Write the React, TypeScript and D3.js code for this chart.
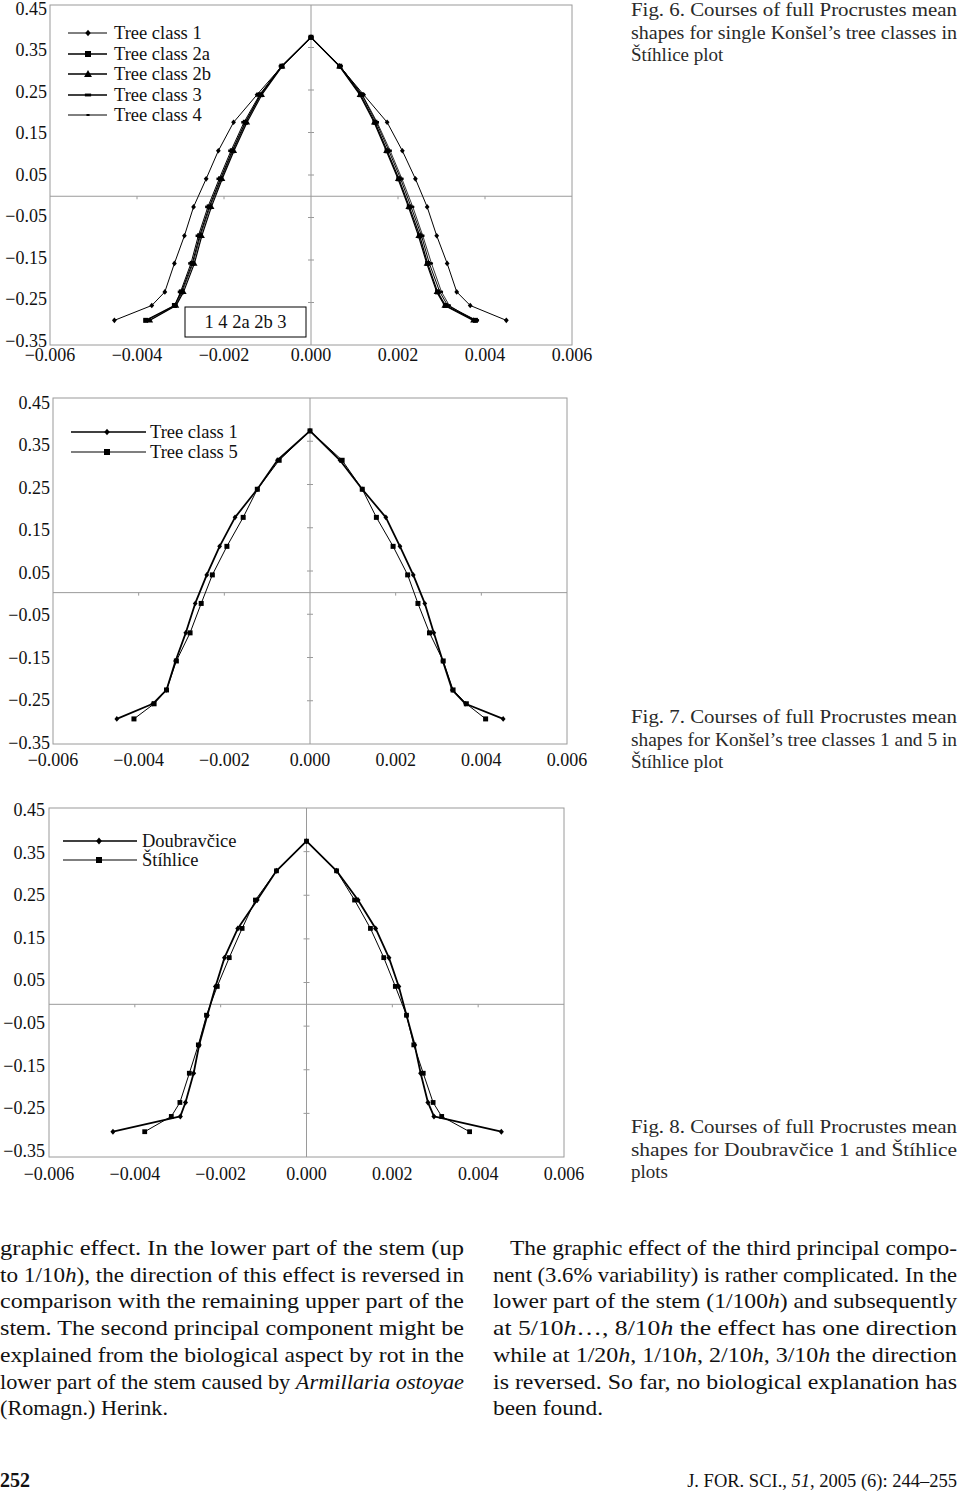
import React from "react";
import * as d3 from "d3";

// ---------- shared axis data ----------
const Y_LEVELS = [-0.292, -0.257, -0.225, -0.158, -0.093, -0.025, 0.041, 0.107, 0.174, 0.239, 0.306, 0.374, 0.306, 0.239, 0.174, 0.107, 0.041, -0.025, -0.093, -0.158, -0.225, -0.257, -0.292];
const X_TICKS = [-0.006, -0.004, -0.002, 0, 0.002, 0.004, 0.006];
const X_TICK_LABELS = ["−0.006", "−0.004", "−0.002", "0.000", "0.002", "0.004", "0.006"];
const Y_TICKS = [0.45, 0.35, 0.25, 0.15, 0.05, -0.05, -0.15, -0.25, -0.35];
const Y_TICK_LABELS = ["0.45", "0.35", "0.25", "0.15", "0.05", "−0.05", "−0.15", "−0.25", "−0.35"];

// ---------- Fig. 6 ----------
const F6_CLASS1 = [-0.00452, -0.00366, -0.00336, -0.00314, -0.00291, -0.0027, -0.00241, -0.00213, -0.00178, -0.00124, -0.00067, 0, 0.00066, 0.00121, 0.00175, 0.0021, 0.0024, 0.00267, 0.00289, 0.00313, 0.00335, 0.00366, 0.00449];
const F6_CLASS2A = [-0.0038, -0.00314, -0.00298, -0.00273, -0.00256, -0.00234, -0.00208, -0.00181, -0.00151, -0.00116, -0.00067, 0, 0.00066, 0.00114, 0.00147, 0.00175, 0.00202, 0.00226, 0.0025, 0.00268, 0.00291, 0.00309, 0.00378];
const F6_CLASS2B = [-0.0037, -0.0031, -0.00293, -0.00268, -0.00251, -0.00229, -0.00204, -0.00177, -0.00147, -0.00113, -0.00066, 0, 0.00065, 0.00112, 0.00145, 0.00173, 0.002, 0.00224, 0.00247, 0.00266, 0.00289, 0.00307, 0.00373];
const F6_CLASS3 = [-0.00378, -0.00313, -0.003, -0.00276, -0.00259, -0.00237, -0.00211, -0.00184, -0.00154, -0.00118, -0.00068, 0, 0.00067, 0.00117, 0.0015, 0.00179, 0.00206, 0.0023, 0.00254, 0.00272, 0.00296, 0.00314, 0.0038];
const F6_CLASS4 = [-0.00372, -0.00311, -0.00296, -0.00271, -0.00254, -0.00232, -0.00206, -0.00179, -0.00149, -0.00116, -0.00067, 0, 0.00067, 0.00118, 0.00152, 0.00182, 0.00209, 0.00234, 0.00257, 0.00277, 0.003, 0.00318, 0.00373];
const F6_NAMES = ["Tree class 1", "Tree class 2a", "Tree class 2b", "Tree class 3", "Tree class 4"];

// ---------- Fig. 7 ----------
const F7_CLASS1 = [-0.00451, -0.00367, -0.00335, -0.00314, -0.0029, -0.00268, -0.00241, -0.00211, -0.00175, -0.00123, -0.00076, 0, 0.0007, 0.00122, 0.00177, 0.0021, 0.00241, 0.00268, 0.00289, 0.0031, 0.00332, 0.00363, 0.00451];
const F7_CLASS5 = [-0.00411, -0.00364, -0.00335, -0.00312, -0.0028, -0.00254, -0.00228, -0.00194, -0.00156, -0.00123, -0.00072, 0, 0.00075, 0.00122, 0.00155, 0.00194, 0.00228, 0.00252, 0.00279, 0.00311, 0.00334, 0.00365, 0.0041];
const F7_NAMES = ["Tree class 1", "Tree class 5"];

// ---------- Fig. 8 ----------
const F8_DOUBRAVCICE = [-0.00451, -0.00294, -0.00282, -0.00263, -0.0025, -0.00231, -0.00212, -0.00191, -0.0016, -0.00115, -0.0007, 0, 0.0007, 0.0012, 0.00161, 0.00192, 0.00215, 0.00233, 0.00252, 0.00266, 0.00283, 0.00297, 0.00454];
const F8_STIHLICE = [-0.00377, -0.00315, -0.00295, -0.00273, -0.00252, -0.00233, -0.00208, -0.0018, -0.0015, -0.00119, -0.0007, 0, 0.0007, 0.00112, 0.00149, 0.0018, 0.00207, 0.00233, 0.0025, 0.00272, 0.00295, 0.00315, 0.0038];
const F8_NAMES = ["Doubravčice", "Štíhlice"];

const SERIF = "'Liberation Serif', 'Times New Roman', serif";

type MarkerType = "diamond" | "square" | "triangle" | "dash" | "dot";

function Marker({ type, x, y, s }: { type: MarkerType; x: number; y: number; s: number }) {
  if (type === "diamond") {
    return <polygon points={`${x},${y - s} ${x + s * 0.85},${y} ${x},${y + s} ${x - s * 0.85},${y}`} fill="#000" />;
  }
  if (type === "square") {
    return <rect x={x - s} y={y - s} width={2 * s} height={2 * s} fill="#000" />;
  }
  if (type === "triangle") {
    return <polygon points={`${x},${y - s * 1.1} ${x + s * 1.1},${y + s * 0.8} ${x - s * 1.1},${y + s * 0.8}`} fill="#000" />;
  }
  if (type === "dash") {
    return <rect x={x - s * 1.2} y={y - s * 0.55} width={2.4 * s} height={1.1 * s} fill="#000" />;
  }
  return <rect x={x - s * 0.7} y={y - s * 0.45} width={1.4 * s} height={0.9 * s} fill="#000" />;
}

type Series = { name: string; xs: number[]; marker: MarkerType; size: number; width: number; legendSize: number; legendWidth: number };

type ChartCfg = {
  left: number; right: number; top: number; bottom: number;
  yLabelRight: number; xLabelY: number; labelTop: number; labelBottom: number;
  series: Series[];
  legend: { x1: number; x2: number; mx: number; tx: number; ys: number[] };
  box?: { x: number; y: number; w: number; h: number; text: string };
};

function Chart({ cfg }: { cfg: ChartCfg }) {
  const x = d3.scaleLinear().domain([-0.006, 0.006]).range([cfg.left, cfg.right]);
  const y = d3.scaleLinear().domain([-0.35, 0.45]).range([cfg.bottom, cfg.top]);
  const yLab = d3.scaleLinear().domain([-0.35, 0.45]).range([cfg.labelBottom, cfg.labelTop]);
  const line = d3.line<[number, number]>().x((d) => x(d[0])).y((d) => y(d[1]));
  const x0 = x(0);
  const y0 = y(0);
  const fs = 18;
  return (
    <g>
      <rect x={cfg.left} y={cfg.top} width={cfg.right - cfg.left} height={cfg.bottom - cfg.top} fill="none" stroke="#9a9a9a" strokeWidth={1} />
      <line x1={cfg.left} x2={cfg.right} y1={y0} y2={y0} stroke="#9a9a9a" strokeWidth={1} />
      <line x1={x0} x2={x0} y1={cfg.top} y2={cfg.bottom} stroke="#9a9a9a" strokeWidth={1} />
      {Y_TICKS.slice(1, -1).map((t) => (
        <line key={"yt" + t} x1={x0 - 3} x2={x0 + 3} y1={y(t)} y2={y(t)} stroke="#9a9a9a" strokeWidth={1} />
      ))}
      {X_TICKS.slice(1, -1).filter((t) => t !== 0).map((t) => (
        <line key={"xt" + t} x1={x(t)} x2={x(t)} y1={y0} y2={y0 + 3} stroke="#9a9a9a" strokeWidth={1} />
      ))}
      {Y_TICKS.map((t, i) => (
        <text key={"yl" + t} x={cfg.yLabelRight} y={yLab(t)} dy="0.33em" textAnchor="end" fontFamily={SERIF} fontSize={fs} fill="#111">
          {Y_TICK_LABELS[i]}
        </text>
      ))}
      {X_TICKS.map((t, i) => (
        <text key={"xl" + t} x={x(t)} y={cfg.xLabelY} dy="0.33em" textAnchor="middle" fontFamily={SERIF} fontSize={fs} fill="#111">
          {X_TICK_LABELS[i]}
        </text>
      ))}
      {cfg.series.map((s) => {
        const pts: [number, number][] = s.xs.map((v, i) => [v, Y_LEVELS[i]]);
        return (
          <g key={s.name}>
            <path d={line(pts) || ""} fill="none" stroke="#000" strokeWidth={s.width} strokeLinejoin="round" />
            {pts.map((p, i) => (
              <Marker key={i} type={s.marker} x={x(p[0])} y={y(p[1])} s={s.size} />
            ))}
          </g>
        );
      })}
      {cfg.series.map((s, i) => (
        <g key={"lg" + s.name}>
          <line x1={cfg.legend.x1} x2={cfg.legend.x2} y1={cfg.legend.ys[i]} y2={cfg.legend.ys[i]} stroke="#000" strokeWidth={s.legendWidth} />
          <Marker type={s.marker} x={cfg.legend.mx} y={cfg.legend.ys[i]} s={s.legendSize} />
          <text x={cfg.legend.tx} y={cfg.legend.ys[i]} dy="0.33em" fontFamily={SERIF} fontSize={18.5} fill="#111">
            {s.name}
          </text>
        </g>
      ))}
      {cfg.box && (
        <g>
          <rect x={cfg.box.x} y={cfg.box.y} width={cfg.box.w} height={cfg.box.h} fill="#fff" stroke="#000" strokeWidth={1} />
          <text x={cfg.box.x + cfg.box.w / 2} y={cfg.box.y + cfg.box.h / 2} dy="0.33em" textAnchor="middle" fontFamily={SERIF} fontSize={18.5} fill="#111">
            {cfg.box.text}
          </text>
        </g>
      )}
    </g>
  );
}

const fig6: ChartCfg = {
  left: 50, right: 572, top: 5, bottom: 345, yLabelRight: 47, xLabelY: 355, labelTop: 9, labelBottom: 341,
  series: [
    { name: F6_NAMES[0], xs: F6_CLASS1, marker: "diamond", size: 2.8, width: 1, legendSize: 3.2, legendWidth: 1 },
    { name: F6_NAMES[1], xs: F6_CLASS2A, marker: "square", size: 2.5, width: 1.2, legendSize: 3, legendWidth: 1.3 },
    { name: F6_NAMES[2], xs: F6_CLASS2B, marker: "triangle", size: 2.8, width: 1.2, legendSize: 3.6, legendWidth: 1.3 },
    { name: F6_NAMES[3], xs: F6_CLASS3, marker: "dash", size: 2.3, width: 1, legendSize: 2.6, legendWidth: 1.3 },
    { name: F6_NAMES[4], xs: F6_CLASS4, marker: "dot", size: 2.2, width: 0.8, legendSize: 2.2, legendWidth: 1 },
  ],
  legend: { x1: 68, x2: 107, mx: 88, tx: 114, ys: [33, 54, 74, 95, 115] },
  box: { x: 185, y: 307, w: 121, h: 30, text: "1 4 2a 2b 3" },
};

const fig7: ChartCfg = {
  left: 53, right: 567, top: 398, bottom: 744, yLabelRight: 50, xLabelY: 760, labelTop: 403, labelBottom: 743,
  series: [
    { name: F7_NAMES[0], xs: F7_CLASS1, marker: "diamond", size: 2.8, width: 1.8, legendSize: 3.2, legendWidth: 1.3 },
    { name: F7_NAMES[1], xs: F7_CLASS5, marker: "square", size: 2.5, width: 1, legendSize: 3, legendWidth: 1.2 },
  ],
  legend: { x1: 71, x2: 146, mx: 107, tx: 150, ys: [432, 452] },
};

const fig8: ChartCfg = {
  left: 49, right: 564, top: 808, bottom: 1157, yLabelRight: 45, xLabelY: 1174, labelTop: 810, labelBottom: 1151,
  series: [
    { name: F8_NAMES[0], xs: F8_DOUBRAVCICE, marker: "diamond", size: 3, width: 1.8, legendSize: 3.4, legendWidth: 1.3 },
    { name: F8_NAMES[1], xs: F8_STIHLICE, marker: "square", size: 2.4, width: 1, legendSize: 3, legendWidth: 1.2 },
  ],
  legend: { x1: 63, x2: 137, mx: 99, tx: 142, ys: [841, 860] },
};

type Seg = { t: string; i?: boolean };

function Line({ x, y, segs, len, fs, fill }: { x: number; y: number; segs: Seg[]; len?: number; fs: number; fill?: string }) {
  return (
    <text x={x} y={y} fontFamily={SERIF} fontSize={fs} fill={fill || "#111"} textLength={len} lengthAdjust={len ? "spacingAndGlyphs" : undefined} xmlSpace="preserve">
      {segs.map((s, k) => (
        <tspan key={k} fontStyle={s.i ? "italic" : "normal"}>{s.t}</tspan>
      ))}
    </text>
  );
}

const CAP6 = ["Fig. 6. Courses of full Procrustes mean", "shapes for single Konšel’s tree classes in", "Štíhlice plot"];
const CAP7 = ["Fig. 7. Courses of full Procrustes mean", "shapes for Konšel’s tree classes 1 and 5 in", "Štíhlice plot"];
const CAP8 = ["Fig. 8. Courses of full Procrustes mean", "shapes for Doubravčice 1 and Štíhlice", "plots"];

function Caption({ lines, y }: { lines: string[]; y: number }) {
  return (
    <g>
      {lines.map((l, i) => (
        <Line key={i} x={631} y={y + i * 22.5} segs={[{ t: l }]} len={i < 2 ? 326 : undefined} fs={19} fill="#2a2a2a" />
      ))}
    </g>
  );
}

const LEFT_COL: Seg[][] = [
  [{ t: "graphic effect. In the lower part of the stem (up" }],
  [{ t: "to 1/10" }, { t: "h", i: true }, { t: "), the direction of this effect is reversed in" }],
  [{ t: "comparison with the remaining upper part of the" }],
  [{ t: "stem. The second principal component might be" }],
  [{ t: "explained from the biological aspect by rot in the" }],
  [{ t: "lower part of the stem caused by " }, { t: "Armillaria ostoyae", i: true }],
  [{ t: "(Romagn.) Herink." }],
];
const RIGHT_COL: Seg[][] = [
  [{ t: "The graphic effect of the third principal compo-" }],
  [{ t: "nent (3.6% variability) is rather complicated. In the" }],
  [{ t: "lower part of the stem (1/100" }, { t: "h", i: true }, { t: ") and subsequently" }],
  [{ t: "at 5/10" }, { t: "h", i: true }, { t: "…, 8/10" }, { t: "h", i: true }, { t: " the effect has one direction" }],
  [{ t: "while at 1/20" }, { t: "h", i: true }, { t: ", 1/10" }, { t: "h", i: true }, { t: ", 2/10" }, { t: "h", i: true }, { t: ", 3/10" }, { t: "h", i: true }, { t: " the direction" }],
  [{ t: "is reversed. So far, no biological explanation has" }],
  [{ t: "been found." }],
];

export default function App() {
  const bodyY = 1255;
  const lh = 26.7;
  return (
    <div style={{ position: "absolute", left: 0, top: 0 }}>
      <svg width={960} height={1493} viewBox="0 0 960 1493" style={{ display: "block", background: "#fff" }}>
        <rect x={0} y={0} width={960} height={1493} fill="#fff" />
        <Chart cfg={fig6} />
        <Chart cfg={fig7} />
        <Chart cfg={fig8} />
        <Caption lines={CAP6} y={16} />
        <Caption lines={CAP7} y={723} />
        <Caption lines={CAP8} y={1133} />
        {LEFT_COL.map((segs, i) => (
          <Line key={"l" + i} x={0} y={bodyY + i * lh} segs={segs} len={i < 6 ? 464 : 168} fs={21} />
        ))}
        {RIGHT_COL.map((segs, i) => (
          <Line key={"r" + i} x={i === 0 ? 510 : 493} y={bodyY + i * lh} segs={segs} len={i < 6 ? (i === 0 ? 447 : 464) : 110} fs={21} />
        ))}
        <text x={0} y={1487} fontFamily={SERIF} fontSize={20} fontWeight="bold" fill="#111">252</text>
        <text x={957} y={1487} textAnchor="end" fontFamily={SERIF} fontSize={18.5} fill="#111" xmlSpace="preserve">
          <tspan>J. FOR. SCI., </tspan>
          <tspan fontStyle="italic">51</tspan>
          <tspan>, 2005 (6): 244–255</tspan>
        </text>
      </svg>
    </div>
  );
}
